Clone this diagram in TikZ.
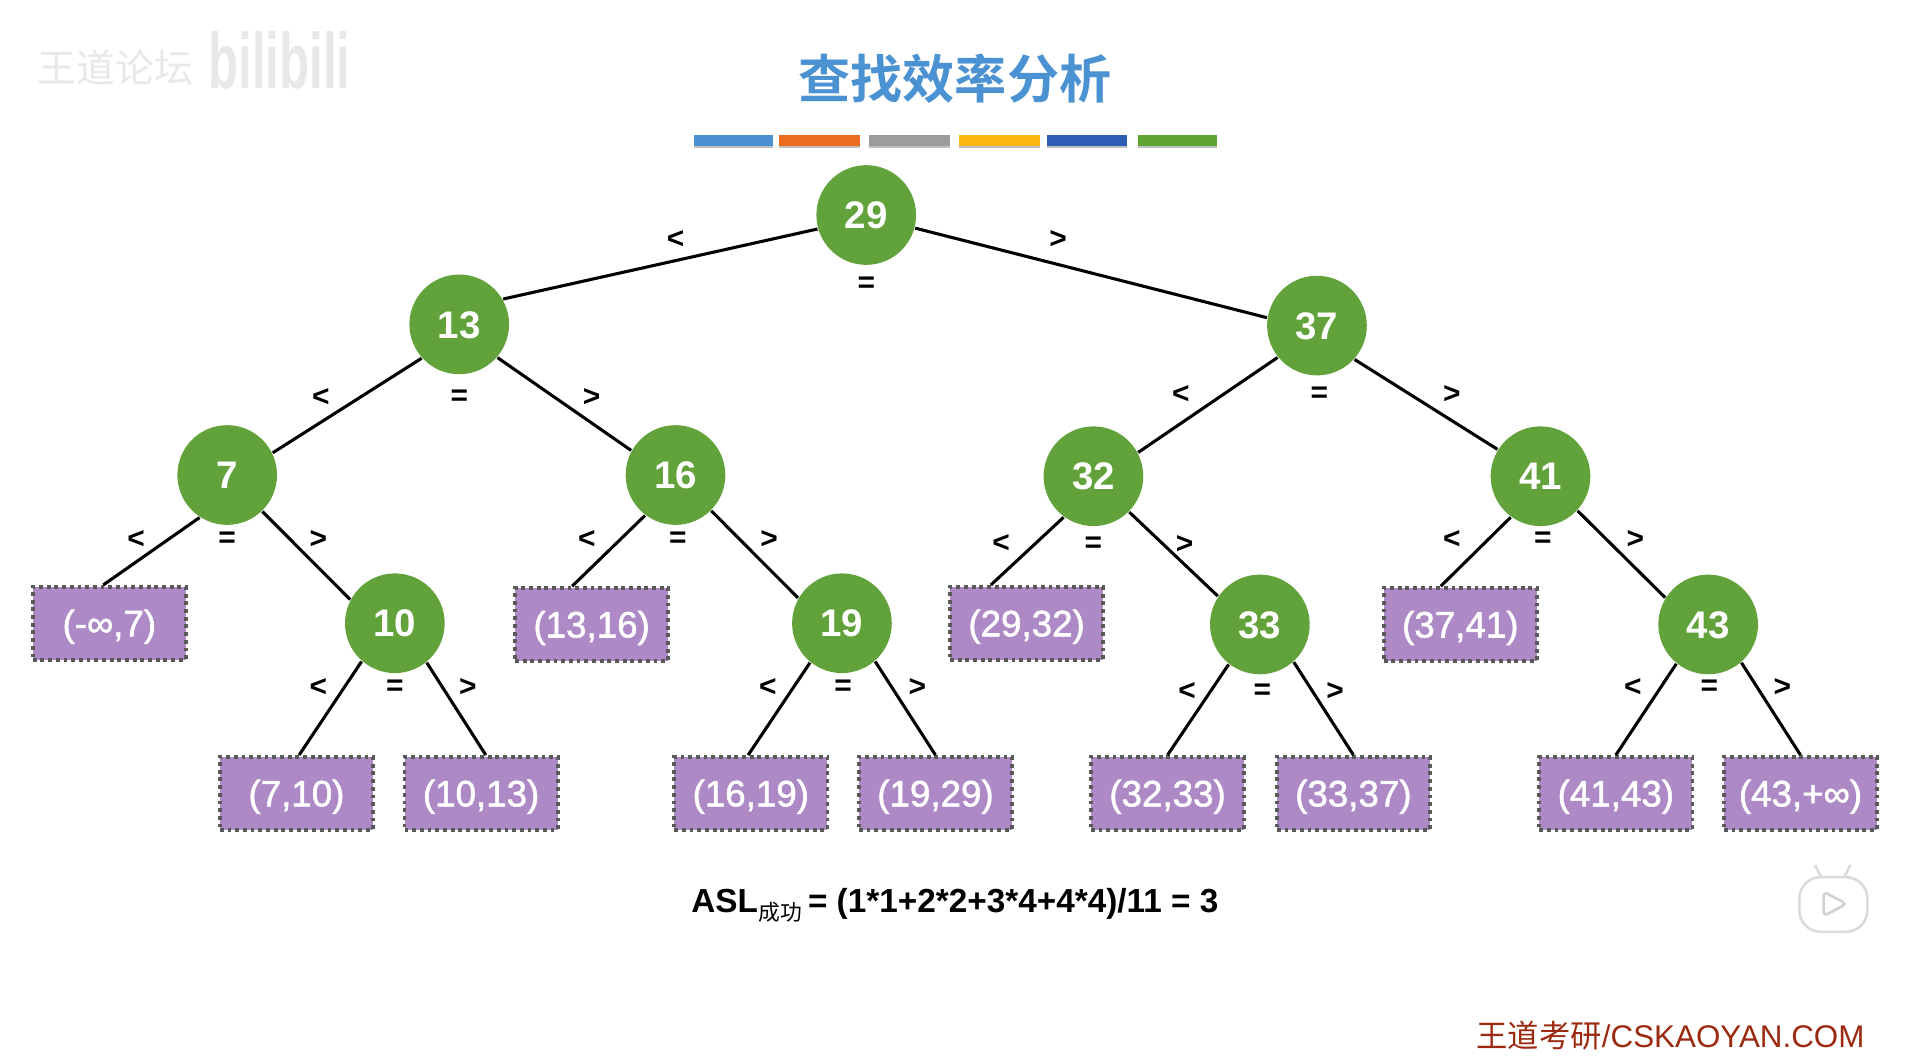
\documentclass[tikz,border=0pt]{standalone}
\usepackage{fontspec}
\setmainfont{Liberation Sans}
\newfontfamily\cjk{Noto Sans CJK SC}
\newfontfamily\cjkbold{Noto Sans CJK SC Bold}
\newfontfamily\medfont[FakeBold=1.5]{Liberation Sans}
\definecolor{titleblue}{HTML}{4B92D2}
\definecolor{keygreen}{HTML}{62A23A}
\definecolor{gappurple}{HTML}{AD89C6}
\definecolor{sitered}{HTML}{9C2A10}
\definecolor{barA}{HTML}{4A90D2}
\definecolor{barB}{HTML}{EC6C1F}
\definecolor{barC}{HTML}{9C9C9C}
\definecolor{barD}{HTML}{FDB813}
\definecolor{barE}{HTML}{2F5DB5}
\definecolor{barF}{HTML}{5FA533}
\tikzset{
  keynode/.style={circle,fill=keygreen,text=white,minimum size=0.82cm,inner sep=0pt,text height=6.4pt,text depth=0pt,font=\fontsize{9}{9}\selectfont\bfseries},
  gapnode/.style={rectangle,fill=gappurple,draw=black!65,line width=0.85pt,dash pattern=on 0.9pt off 0.9pt,text=white,minimum width=1.26cm,minimum height=0.60cm,inner sep=0pt,text height=6.1pt,text depth=0pt,font=\fontsize{8.6}{9}\selectfont\medfont},
  cmplabel/.style={inner sep=0pt,yshift=-0.02cm,font=\fontsize{7}{7}\selectfont\bfseries},
  branch/.style={black,line width=0.72pt}
}
\begin{document}
\begin{tikzpicture}[x=0.01cm,y=-0.01cm]
\useasboundingbox (0,0) rectangle (1568,875.8);

% 1. Title and the colour bars below it
\node[inner sep=0pt,text=titleblue,font=\fontsize{12.2}{13}\selectfont\cjkbold] (title) at (786,65) {查找效率分析};
\foreach \xa/\xb/\col in {571/636/barA,641/708/barB,715/782/barC,789/856/barD,862/928/barE,937/1002/barF}{
  \fill[black!25] (\xa,113) rectangle (\xb,122);
  \fill[\col] (\xa,111) rectangle (\xb,120);
}

% 2. Faint marks of the video page
\node[inner sep=0pt,text=black!9,font=\fontsize{9.1}{9}\selectfont\cjk] (forum) at (95,56) {王道论坛};
\node[inner sep=0pt,text=black!9,font=\fontsize{11.5}{12}\selectfont\bfseries] (bili) at (230,50) {\scalebox{1}[1.6]{bilibili}};
\draw[black!14,line width=0.6pt] (1499,722) -- (1494,712) (1518,722) -- (1523,712);
\draw[black!14,fill=white,line width=0.6pt,rounded corners=5pt] (1481,722) rectangle (1537,767);
\draw[black!18,line width=0.6pt,rounded corners=1pt] (1501,734) -- (1520,744) -- (1501,754) -- cycle;

% 3. Key nodes
\node[keynode] (n29) at (713,177) {29};
\node[keynode] (n13) at (378,267) {13};
\node[keynode] (n37) at (1084,268) {37};
\node[keynode] (n7) at (187,391) {7};
\node[keynode] (n16) at (556,391) {16};
\node[keynode] (n32) at (900,392) {32};
\node[keynode] (n41) at (1268,392) {41};
\node[keynode] (n10) at (325,513) {10};
\node[keynode] (n19) at (693,513) {19};
\node[keynode] (n33) at (1037,514) {33};
\node[keynode] (n43) at (1406,514) {43};

% 4. Failure intervals
\node[gapnode] (g7) at (90,513) {(-∞,7)};
\node[gapnode] (g16) at (487,514) {(13,16)};
\node[gapnode] (g32) at (845,513) {(29,32)};
\node[gapnode] (g41) at (1202,514) {(37,41)};
\node[gapnode] (g10) at (244,653) {(7,10)};
\node[gapnode] (g13) at (396,653) {(10,13)};
\node[gapnode] (g19) at (618,653) {(16,19)};
\node[gapnode] (g29) at (770,653) {(19,29)};
\node[gapnode] (g33) at (961,653) {(32,33)};
\node[gapnode] (g37) at (1114,653) {(33,37)};
\node[gapnode] (g43) at (1330,653) {(41,43)};
\node[gapnode] (g99) at (1482,653) {(43,+∞)};

% 5. Branches between nodes
\draw[branch] (n29.196) -- (n13.30);
\draw[branch] (n29.345) -- (n37.171);
\draw[branch] (n13.222) -- (n7.26);
\draw[branch] (n13.319) -- (n16.151);
\draw[branch] (n37.219) -- (n32.28);
\draw[branch] (n37.318) -- (n41.148);
\draw[branch] (n7.237) -- (g7.99);
\draw[branch] (n7.314) -- (n10.152);
\draw[branch] (n16.233) -- (g16.117);
\draw[branch] (n16.315) -- (n19.150);
\draw[branch] (n32.234) -- (g32.133);
\draw[branch] (n32.315) -- (n33.146);
\draw[branch] (n41.234) -- (g41.117);
\draw[branch] (n41.317) -- (n43.148);
\draw[branch] (n10.229) -- (g10.86);
\draw[branch] (n10.309) -- (g13.83);
\draw[branch] (n19.231) -- (g19.94);
\draw[branch] (n19.311) -- (g29.north);
\draw[branch] (n33.232) -- (g33.north);
\draw[branch] (n33.312) -- (g37.north);
\draw[branch] (n43.231) -- (g43.north);
\draw[branch] (n43.311) -- (g99.north);

% 6. Comparison signs
\foreach \name/\x/\y/\sign in {lt29/556/195/<,eq29/713/232/=,gt29/871/195/>,
  lt13/264/325/<,eq13/378/325/=,gt13/487/325/>,
  lt37/972/323/<,eq37/1086/323/=,gt37/1195/323/>,
  lt7/112/442/<,eq7/187/442/=,gt7/262/442/>,
  lt16/483/442/<,eq16/558/442/=,gt16/633/442/>,
  lt32/824/445/<,eq32/900/446/=,gt32/975/446/>,
  lt41/1195/442/<,eq41/1270/442/=,gt41/1346/442/>,
  lt10/262/564/<,eq10/325/564/=,gt10/385/564/>,
  lt19/632/564/<,eq19/694/564/=,gt19/755/564/>,
  lt33/977/567/<,eq33/1039/567/=,gt33/1099/567/>,
  lt43/1344/564/<,eq43/1407/564/=,gt43/1467/564/>}{
  \node[cmplabel] (\name) at (\x,\y) {\sign};
}

% 7. Formula and site name
\node[inner sep=0pt,font=\fontsize{7.8}{8}\selectfont\bfseries] (asl) at (786,745) {ASL\kern0.1pt\raisebox{-0.45ex}{\fontsize{5.1}{5}\selectfont\mdseries\cjk 成功}\kern1.4pt= (1*1+2*2+3*4+4*4)/11 = 3};
\node[inner sep=0pt,text=sitered,font=\fontsize{7.34}{8}\selectfont] (site) at (1375,852) {{\cjk 王道考研}/CSKAOYAN.COM};

\end{tikzpicture}
\end{document}
